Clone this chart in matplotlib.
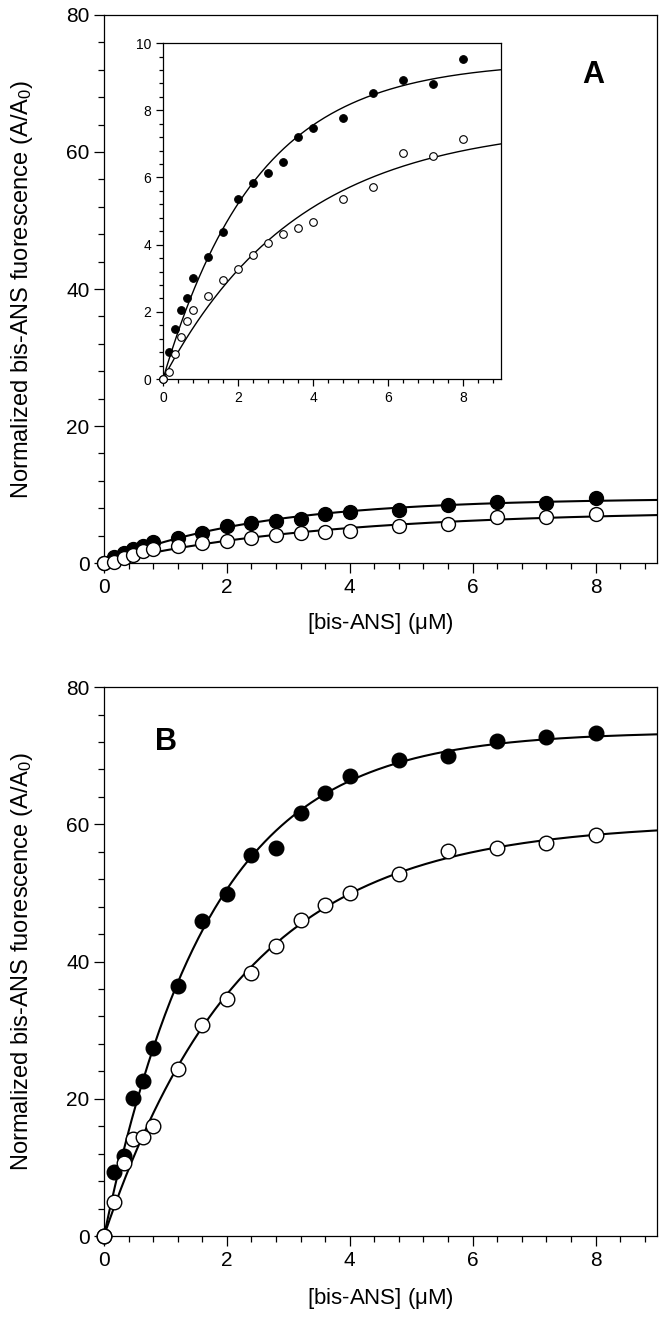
import numpy as np
import matplotlib
matplotlib.use("Agg")
from matplotlib import pyplot as plt
from matplotlib.ticker import MultipleLocator

plt.rcParams['font.family'] = ['Liberation Sans', 'DejaVu Sans']
plt.rcParams['mathtext.default'] = 'regular'

# bis-ANS concentration (uM)
conc = [0, 0.16, 0.32, 0.48, 0.64, 0.8, 1.2, 1.6, 2.0, 2.4, 2.8, 3.2, 3.6, 4.0,
        4.8, 5.6, 6.4, 7.2, 8.0]

# panel A (same data shown in main plot and inset)
a_filled = [0, 0.81, 1.48, 2.07, 2.42, 3.0, 3.63, 4.38, 5.37, 5.85, 6.12, 6.45,
            7.21, 7.48, 7.76, 8.52, 8.90, 8.78, 9.54]
a_open = [0, 0.22, 0.76, 1.24, 1.73, 2.05, 2.48, 2.94, 3.28, 3.70, 4.06, 4.33,
          4.51, 4.67, 5.37, 5.71, 6.72, 6.65, 7.14]

# panel B
b_filled = [0, 9.4, 11.7, 20.1, 22.6, 27.4, 36.4, 45.9, 49.8, 55.6, 56.5, 61.7,
            64.6, 67.0, 69.3, 69.9, 72.1, 72.7, 73.3]
b_open = [0, 4.9, 10.7, 14.2, 14.5, 16.0, 24.3, 30.7, 34.5, 38.3, 42.3, 46.1,
          48.2, 50.0, 52.8, 56.1, 56.5, 57.3, 58.4]

xlabel = '[bis-ANS] ($\\mu$M)'
ylabel = 'Normalized bis-ANS fuorescence (A/A$_0$)'


def fit_exp(x, y):
    # least squares fit of y = a*(1 - exp(-k*x))
    x = np.asarray(x, float)
    y = np.asarray(y, float)
    best = None
    for k in np.linspace(0.02, 3, 3000):
        f = 1 - np.exp(-k * x)
        a = (f @ y) / (f @ f)
        err = ((a * f - y) ** 2).sum()
        if best is None or err < best[0]:
            best = (err, a, k)
    return best[1], best[2]


xs = np.linspace(0, 9, 300)


def curve(y):
    a, k = fit_exp(conc, y)
    return a * (1 - np.exp(-k * xs))


def style_axes(ax, ymajor, yminor, tick_size, major_len, minor_len):
    ax.set_xlim(0, 9)
    ax.xaxis.set_major_locator(MultipleLocator(2))
    ax.xaxis.set_minor_locator(MultipleLocator(0.4))
    ax.yaxis.set_major_locator(MultipleLocator(ymajor))
    ax.yaxis.set_minor_locator(MultipleLocator(yminor))
    ax.tick_params(which='both', direction='out', top=False, right=False,
                   labelsize=tick_size, width=0.9)
    ax.tick_params(which='major', length=major_len)
    ax.tick_params(which='minor', length=minor_len)
    for s in ax.spines.values():
        s.set_linewidth(0.9)


def plot_panel(ax, yf, yo, ms, lw, mew):
    ax.plot(xs, curve(yf), color='black', lw=lw, zorder=2)
    ax.plot(xs, curve(yo), color='black', lw=lw, zorder=2)
    ax.plot(conc, yf, 'o', ms=ms, mfc='black', mec='black', mew=mew,
            zorder=3, clip_on=False)
    ax.plot(conc, yo, 'o', ms=ms, mfc='white', mec='black', mew=mew,
            zorder=4, clip_on=False)


fig = plt.figure(figsize=(6.64, 13.38), dpi=100)

# panel A
axA = fig.add_axes([0.1566, 0.5792, 0.8328, 0.4096])
plot_panel(axA, a_filled, a_open, 10, 1.5, 1.0)
axA.set_ylim(0, 80)
style_axes(axA, 20, 4, 15, 7, 4)
axA.set_xlabel(xlabel, fontsize=16, labelpad=10)
axA.set_ylabel(ylabel, fontsize=17, labelpad=22)
axA.text(0.885, 0.89, 'A', transform=axA.transAxes, fontsize=22,
         fontweight='bold', ha='center', va='center')

# inset
axI = fig.add_axes([0.2455, 0.7167, 0.509, 0.2511])
plot_panel(axI, a_filled, a_open, 5.5, 1.0, 0.8)
axI.set_ylim(0, 10)
style_axes(axI, 2, 0.4, 10, 5, 3)

# panel B
axB = fig.add_axes([0.1566, 0.0762, 0.8328, 0.4103])
plot_panel(axB, b_filled, b_open, 10.5, 1.5, 1.0)
axB.set_ylim(0, 80)
style_axes(axB, 20, 4, 15, 7, 4)
axB.set_xlabel(xlabel, fontsize=16, labelpad=12)
axB.set_ylabel(ylabel, fontsize=17, labelpad=22)
axB.text(0.113, 0.90, 'B', transform=axB.transAxes, fontsize=22,
         fontweight='bold', ha='center', va='center')

plt.savefig('out.png', dpi=100)
